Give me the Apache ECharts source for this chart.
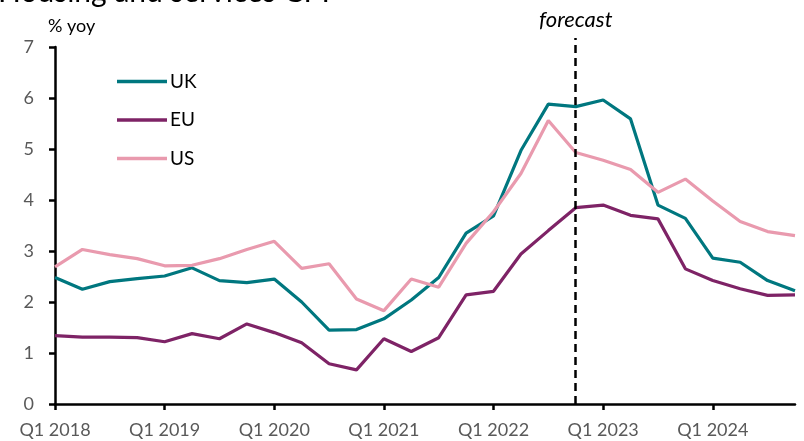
<!DOCTYPE html>
<html>
<head>
<meta charset="utf-8">
<script src="https://cdn.jsdelivr.net/npm/echarts@6/dist/echarts.min.js"></script>
<style>
html,body{margin:0;padding:0;background:#fff;}
#chart{width:804px;height:441px;}
</style>
</head>
<body>
<div id="chart"></div>
<script>
const categories = ['Q1 2018','Q2 2018','Q3 2018','Q4 2018','Q1 2019','Q2 2019','Q3 2019','Q4 2019',
  'Q1 2020','Q2 2020','Q3 2020','Q4 2020','Q1 2021','Q2 2021','Q3 2021','Q4 2021',
  'Q1 2022','Q2 2022','Q3 2022','Q4 2022','Q1 2023','Q2 2023','Q3 2023','Q4 2023',
  'Q1 2024','Q2 2024','Q3 2024','Q4 2024'];
const ukValues = [2.48, 2.25, 2.40, 2.46, 2.51, 2.67, 2.42, 2.38, 2.45, 2.00, 1.45, 1.46, 1.67, 2.04, 2.48, 3.35,
  3.69, 4.97, 5.88, 5.83, 5.96, 5.59, 3.90, 3.64, 2.86, 2.78, 2.42, 2.22];
const euValues = [1.34, 1.31, 1.31, 1.30, 1.22, 1.38, 1.28, 1.57, 1.40, 1.20, 0.79, 0.67, 1.28, 1.03, 1.30, 2.14,
  2.21, 2.94, 3.40, 3.85, 3.90, 3.70, 3.63, 2.65, 2.42, 2.26, 2.13, 2.14];
const usValues = [2.69, 3.03, 2.93, 2.85, 2.71, 2.72, 2.85, 3.03, 3.19, 2.66, 2.75, 2.06, 1.83, 2.45, 2.29, 3.15,
  3.77, 4.52, 5.56, 4.93, 4.78, 4.60, 4.15, 4.41, 3.98, 3.58, 3.38, 3.30];
const forecastStart = 'Q4 2022';
const seriesNames = ['UK', 'EU', 'US'];
const seriesColors = ['#00777F', '#7E2366', '#E99AAE'];

const font = 'Lato, "Open Sans", "Noto Sans", sans-serif';
const chart = echarts.init(document.getElementById('chart'), null, {renderer: 'canvas'});
const seriesData = [ukValues, euValues, usValues];

const option = {
  animation: false,
  backgroundColor: '#fff',
  textStyle: {fontFamily: font},
  title: [
    {text: 'Housing and services CPI', left: -7, top: -28,
     textStyle: {fontFamily: font, fontSize: 30, fontWeight: 'normal', color: '#000'}},
    {text: '% yoy', left: 43, top: 12,
     textStyle: {fontFamily: font, fontSize: 18, fontWeight: 'normal', color: '#000'}}
  ],
  legend: {
    data: seriesNames,
    orient: 'vertical',
    left: 112,
    top: 67,
    icon: 'rect',
    itemWidth: 50,
    itemHeight: 3.5,
    itemGap: 19.5,
    textStyle: {fontFamily: font, fontSize: 19, color: '#000', lineHeight: 18, padding: [0,0,0,-2]}
  },
  grid: [
    {left: 55, right: 9, top: 47, bottom: 37},
    {left: 55, right: 9, top: 38, bottom: 37}
  ],
  xAxis: [
    {
      type: 'category', gridIndex: 0, data: categories, boundaryGap: false,
      axisLine: {lineStyle: {color: '#000', width: 2.5}},
      axisTick: {show: true, interval: 3, length: 6, lineStyle: {color: '#000', width: 2.5}},
      axisLabel: {interval: 3, color: '#595959', fontSize: 18, margin: 17, fontFamily: font},
      splitLine: {show: false}
    },
    {
      type: 'category', gridIndex: 1, data: categories, boundaryGap: false, show: false
    }
  ],
  yAxis: [
    {
      type: 'value', gridIndex: 0, min: 0, max: 7, interval: 1,
      axisLine: {show: true, lineStyle: {color: '#000', width: 2.5}},
      axisTick: {show: true, length: 6, lineStyle: {color: '#000', width: 2.5}},
      axisLabel: {color: '#595959', fontSize: 18, margin: 21, fontFamily: font},
      splitLine: {show: false}
    },
    {type: 'value', gridIndex: 1, min: 0, max: 1, show: false}
  ],
  series: seriesNames.map((name, i) => ({
    name: name,
    type: 'line',
    xAxisIndex: 0, yAxisIndex: 0,
    data: seriesData[i],
    symbol: 'none',
    lineStyle: {width: 3.2, color: seriesColors[i]},
    itemStyle: {color: seriesColors[i]},
    z: 3
  })).concat([{
    name: 'forecast',
    type: 'line',
    xAxisIndex: 1, yAxisIndex: 1,
    data: [],
    symbol: 'none',
    markLine: {
      silent: true,
      symbol: 'none',
      lineStyle: {type: [8, 5], color: '#000', width: 2.5},
      label: {show: true, position: 'end', formatter: 'forecast', distance: 7,
              fontStyle: 'italic', fontSize: 22, color: '#000', fontFamily: font},
      data: [{xAxis: forecastStart}]
    },
    z: 2
  }])
};
chart.setOption(option);
</script>
</body>
</html>
